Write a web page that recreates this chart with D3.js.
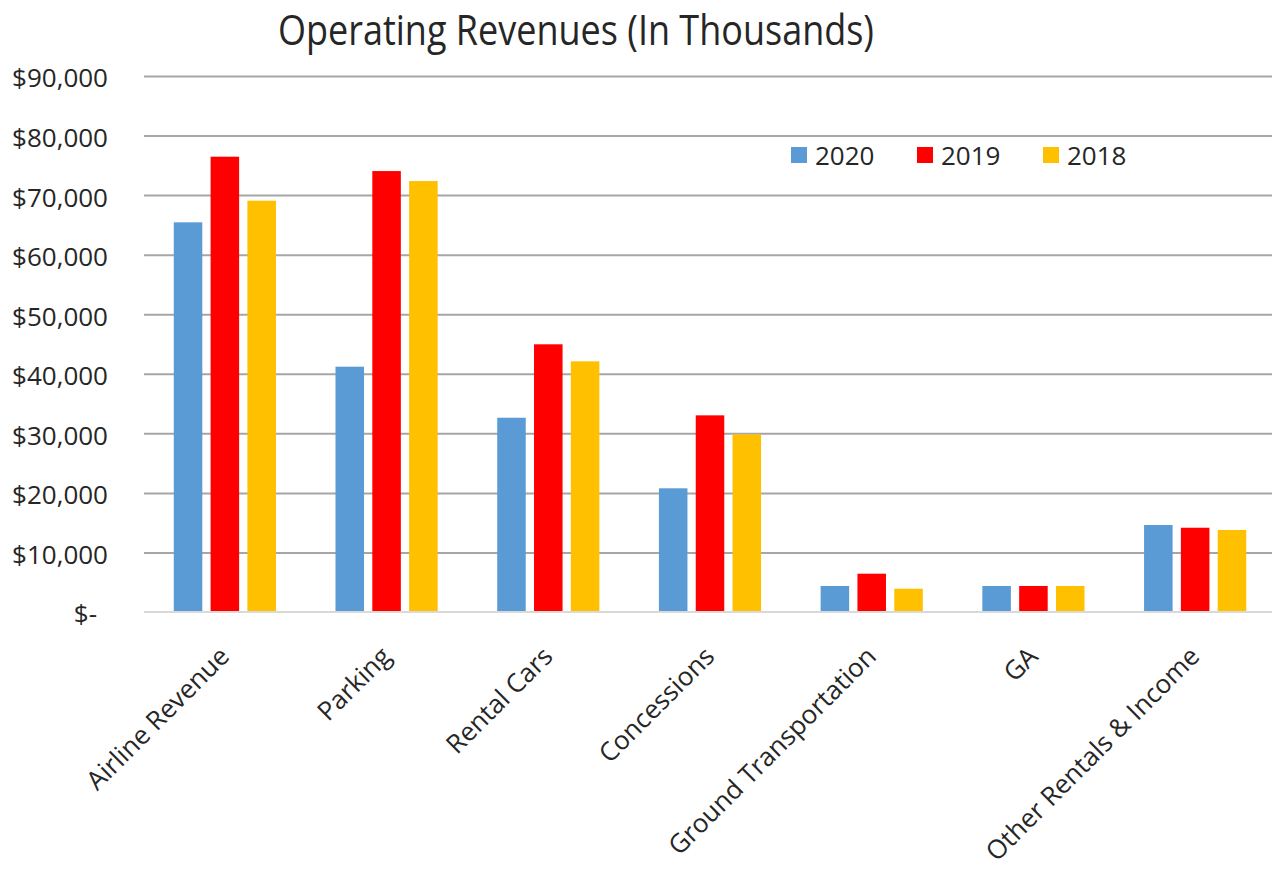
<!DOCTYPE html>
<html>
<head>
<meta charset="utf-8">
<script src="https://cdn.jsdelivr.net/npm/d3@7"></script>
<style>
  body { margin: 0; background: #fff; }
  text { font-family: "Open Sans", sans-serif; fill: #262626; }
</style>
</head>
<body>
<div id="chart"></div>
<script>
// data (thousands of $)
var categories = ["Airline Revenue", "Parking", "Rental Cars", "Concessions",
                  "Ground Transportation", "GA", "Other Rentals & Income"];
var years = ["2020", "2019", "2018"];
var rev2020 = [65430, 41190, 32620, 20770, 4370, 4370, 14610];
var rev2019 = [76450, 74040, 44950, 33020, 6430, 4370, 14150];
var rev2018 = [69060, 72360, 42090, 29830, 3910, 4370, 13770];
var yTicks = [0, 10000, 20000, 30000, 40000, 50000, 60000, 70000, 80000, 90000];
var colors = ["#5B9BD5", "#FF0000", "#FFC000"];

var series = [rev2020, rev2019, rev2018];
var rows = categories.map(function (c, i) {
    return { cat: c, vals: years.map(function (yr, j) { return { year: yr, v: series[j][i] }; }) };
});

var W = 1272, H = 873;
var plotL = 144, plotR = 1276, plotT = 76, plotB = 612;

var svg = d3.select("#chart").append("svg")
    .attr("width", W)
    .attr("height", H);

var x0 = d3.scaleBand()
    .domain(categories)
    .range([plotL, plotR])
    .paddingInner(0.317)
    .paddingOuter(0.1585);

var x1 = d3.scaleBand()
    .domain(years)
    .range([0, x0.bandwidth()])
    .paddingInner(0.225)
    .paddingOuter(0.1125);

var y = d3.scaleLinear()
    .domain([0, 90000])
    .range([plotB, plotT]);

var fmt = d3.format(",");

// gridlines
var grid = svg.append("g")
    .attr("transform", "translate(" + plotL + ",0)")
    .call(d3.axisLeft(y).tickValues(yTicks.slice(1)).tickSize(-(W - plotL)).tickFormat(""));
grid.select(".domain").remove();
grid.selectAll("line").attr("stroke", "#a6a6a6").attr("stroke-width", 2);

// y labels
var yAx = svg.append("g")
    .attr("transform", "translate(" + plotL + ",0)")
    .call(d3.axisLeft(y).tickValues(yTicks).tickSize(0).tickPadding(36)
        .tickFormat(function (d) { return d === 0 ? "$-" : "$" + fmt(d); }));
yAx.select(".domain").remove();
yAx.selectAll("text")
    .style("font-size", "26px")
    .attr("dy", "0.42em")
    .attr("dx", function (d) { return d === 0 ? -11 : 0; });

// bars
var groups = svg.selectAll(".grp")
    .data(rows)
    .enter().append("g")
    .attr("class", "grp")
    .attr("transform", function (d) { return "translate(" + x0(d.cat) + ",0)"; });

groups.selectAll("rect")
    .data(function (d) { return d.vals; })
    .enter().append("rect")
    .attr("x", function (d) { return x1(d.year); })
    .attr("y", function (d) { return y(d.v); })
    .attr("width", x1.bandwidth())
    .attr("height", function (d) { return y(0) - y(d.v); })
    .attr("fill", function (d, i) { return colors[i]; });

// baseline
svg.append("line")
    .attr("x1", plotL).attr("x2", W)
    .attr("y1", y(0)).attr("y2", y(0))
    .attr("stroke", "#d9d9d9")
    .attr("stroke-width", 2);

// x labels
var xAx = svg.append("g")
    .attr("transform", "translate(0," + plotB + ")")
    .call(d3.axisBottom(x0).tickSize(0));
xAx.select(".domain").remove();
xAx.selectAll("text")
    .style("font-size", "26px")
    .attr("text-anchor", "end")
    .attr("y", 0)
    .attr("dy", 0)
    .attr("transform", "translate(6,46) rotate(-45)");

// title
svg.append("text")
    .attr("transform", "translate(576,45) scale(1,1.15)")
    .attr("text-anchor", "middle")
    .style("font-size", "36px")
    .text("Operating Revenues (In Thousands)");

// legend
var leg = svg.selectAll(".leg")
    .data(years)
    .enter().append("g")
    .attr("class", "leg")
    .attr("transform", function (d, i) { return "translate(" + (791 + i * 126) + ",147)"; });
leg.append("rect")
    .attr("width", 16).attr("height", 16)
    .attr("fill", function (d, i) { return colors[i]; });
leg.append("text")
    .attr("x", 24).attr("y", 18)
    .style("font-size", "26px")
    .text(function (d) { return d; });
</script>
</body>
</html>
